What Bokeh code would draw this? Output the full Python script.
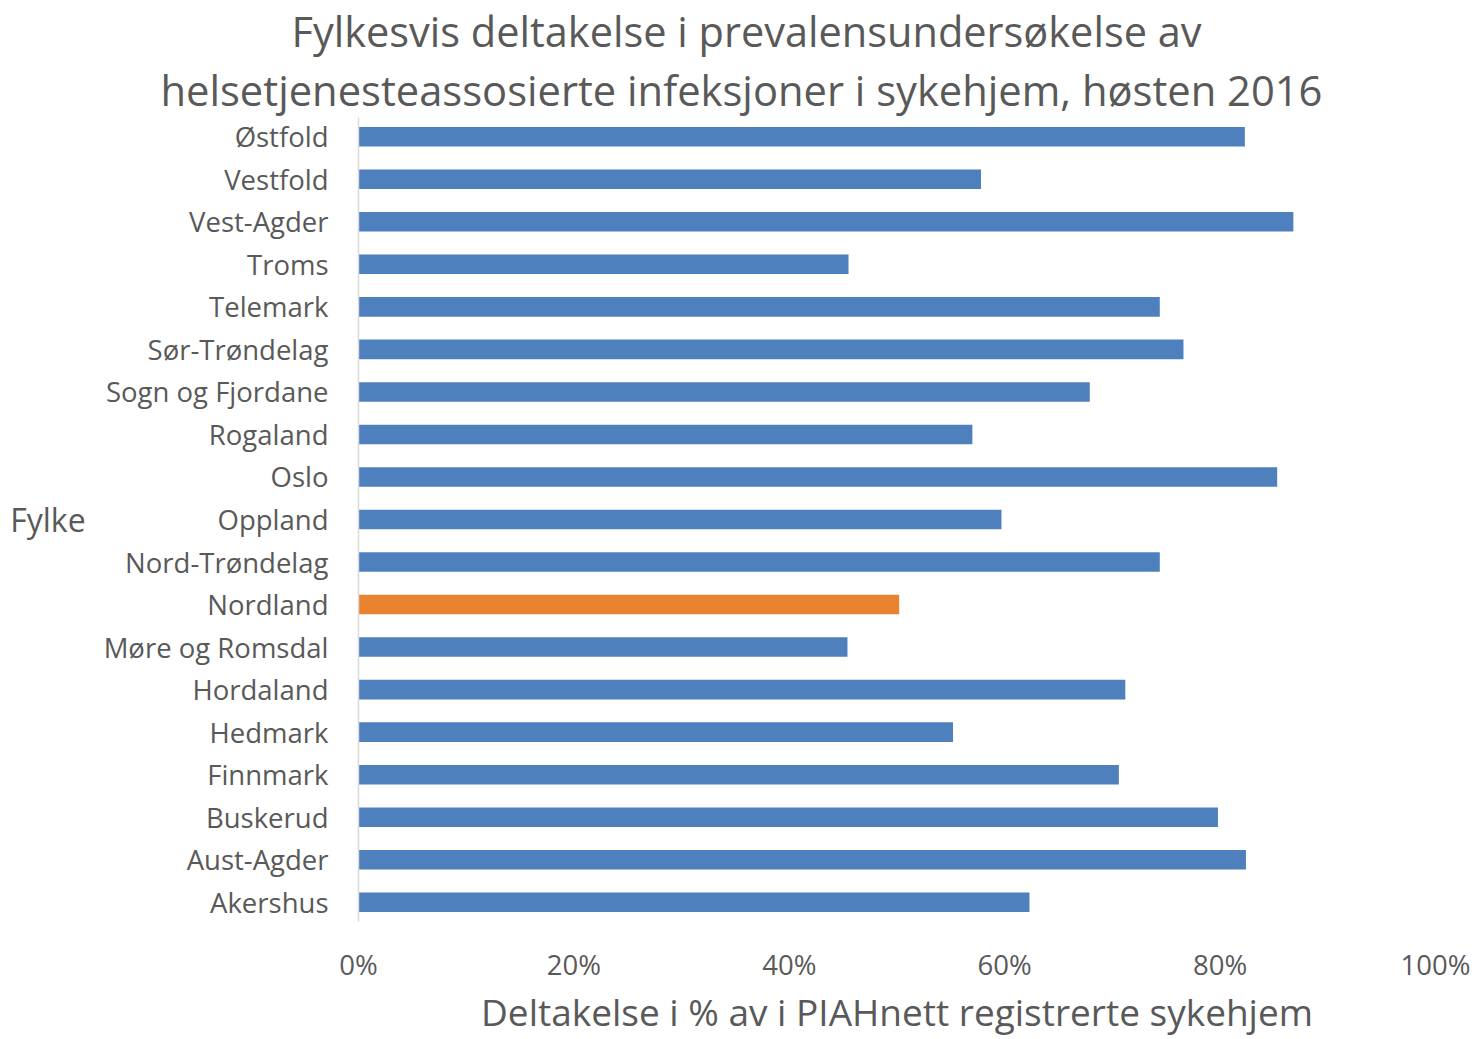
from bokeh.plotting import figure
from bokeh.models import FactorRange, Range1d, FixedTicker, PrintfTickFormatter, ColumnDataSource, Title
from bokeh.embed import file_html
from bokeh.resources import INLINE

# Data (top-to-bottom as shown)
fylker = ["Østfold", "Vestfold", "Vest-Agder", "Troms", "Telemark", "Sør-Trøndelag",
          "Sogn og Fjordane", "Rogaland", "Oslo", "Oppland", "Nord-Trøndelag", "Nordland",
          "Møre og Romsdal", "Hordaland", "Hedmark", "Finnmark", "Buskerud", "Aust-Agder",
          "Akershus"]
deltakelse = [82.3, 57.8, 86.8, 45.5, 74.4, 76.6, 67.9, 57.0, 85.3, 59.7, 74.4, 50.2,
              45.4, 71.2, 55.2, 70.6, 79.8, 82.4, 62.3]
highlight = "Nordland"
x_ticks = [0, 20, 40, 60, 80, 100]

title_lines = ["Fylkesvis deltakelse i prevalensundersøkelse av",
               "helsetjenesteassosierte infeksjoner i sykehjem, høsten 2016"]
y_title = "Fylke"
x_title = "Deltakelse i % av i PIAHnett registrerte sykehjem"

BLUE = "#4e80bd"
ORANGE = "#e9832f"
TXT = "#595959"
FONT = "Open Sans"

colors = [ORANGE if f == highlight else BLUE for f in fylker]
src = ColumnDataSource(dict(f=fylker, v=deltakelse, c=colors))

p = figure(width=1474, height=1039, output_backend="svg", toolbar_location=None,
           x_range=Range1d(0, 100),
           y_range=FactorRange(factors=list(reversed(fylker)), range_padding=-0.005),
           min_border_left=358, min_border_right=39, min_border_top=0, min_border_bottom=113)
p.outline_line_color = None
p.grid.visible = False
p.background_fill_color = "white"
p.border_fill_color = "white"

p.hbar(y="f", left=0, right="v", height=0.46, fill_color="c", line_color=None, source=src)

# titles (added nearest-first)
p.add_layout(Title(text=title_lines[1], align="left", offset=-198, text_font=FONT,
                   text_font_size="41.7px", text_color=TXT, text_font_style="normal",
                   standoff=0), "above")
p.add_layout(Title(text=title_lines[0], align="left", offset=-67, text_font=FONT,
                   text_font_size="41.5px", text_color=TXT, text_font_style="normal",
                   standoff=0), "above")

# x axis
xa = p.xaxis[0]
xa.ticker = FixedTicker(ticks=x_ticks)
xa.formatter = PrintfTickFormatter(format="%d%%")
xa.axis_line_color = None
xa.major_tick_line_color = None
xa.minor_tick_line_color = None
xa.major_label_text_font = FONT
xa.major_label_text_font_size = "27.5px"
xa.major_label_text_color = TXT
xa.major_label_standoff = 18
xa.axis_label = x_title
xa.axis_label_text_font = FONT
xa.axis_label_text_font_size = "37px"
xa.axis_label_text_font_style = "normal"
xa.axis_label_text_color = TXT
xa.axis_label_standoff = 0

# y axis
ya = p.yaxis[0]
ya.axis_line_color = "#d9d9d9"
ya.axis_line_width = 1.5
ya.major_tick_line_color = None
ya.minor_tick_line_color = None
ya.major_label_text_font = FONT
ya.major_label_text_font_size = "27.5px"
ya.major_label_text_color = TXT
ya.major_label_standoff = 24
ya.axis_label = y_title
ya.axis_label_orientation = "horizontal"
ya.axis_label_text_font = FONT
ya.axis_label_text_font_size = "32px"
ya.axis_label_text_font_style = "normal"
ya.axis_label_text_color = TXT
ya.axis_label_standoff = 15

open("out.html", "w").write(file_html(p, INLINE))
